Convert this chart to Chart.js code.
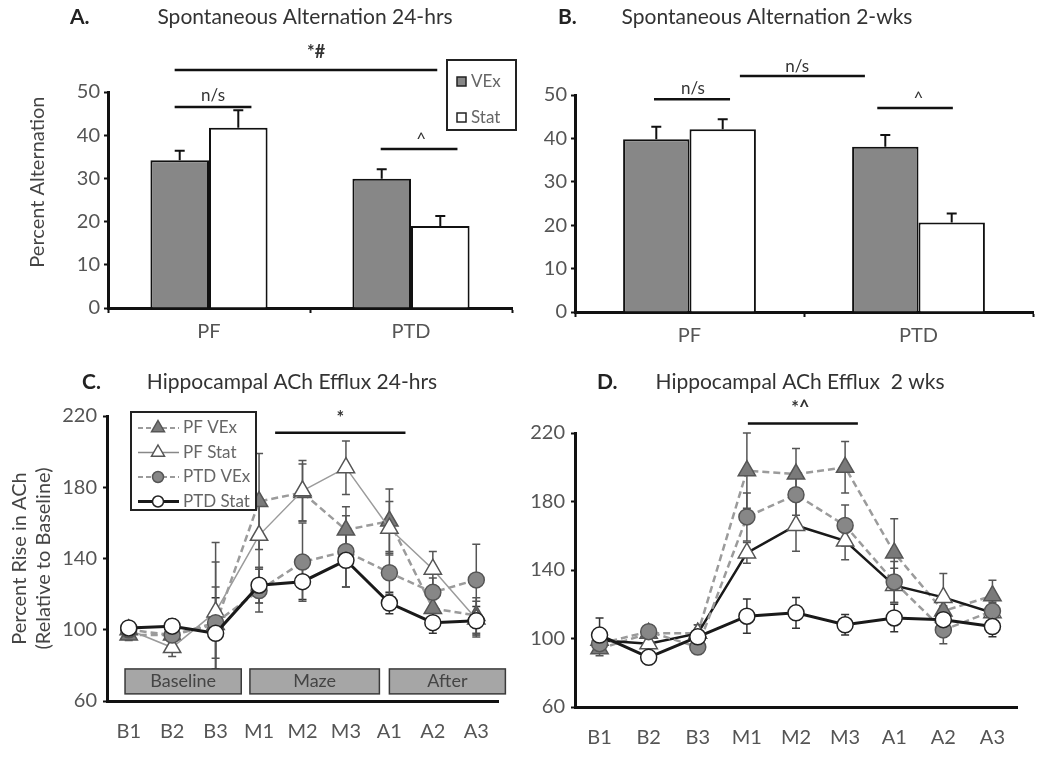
<!DOCTYPE html>
<html>
<head>
<meta charset="utf-8">
<script src="https://cdn.jsdelivr.net/npm/chart.js@4.4.0/dist/chart.umd.min.js"></script>
<style>
  html, body { margin: 0; padding: 0; background: #fff; }
  #fig { position: relative; width: 1050px; height: 757px; overflow: hidden; }
  canvas { position: absolute; }
</style>
</head>
<body>
<div id="fig">
  <canvas id="chartA" width="525" height="360" style="left:0;top:0"></canvas>
  <canvas id="chartB" width="525" height="360" style="left:525px;top:0"></canvas>
  <canvas id="chartC" width="525" height="397" style="left:0;top:360px"></canvas>
  <canvas id="chartD" width="525" height="397" style="left:525px;top:360px"></canvas>
</div>
<script>
'use strict';

// bar panels (A: 24-hrs, B: 2-wks)
const barCategories = ['PF', 'PTD'];
const alt24Vex = [34.2, 29.9];
const alt24VexErr = [2.2, 2.2];
const alt24Stat = [41.7, 19.0];
const alt24StatErr = [4.1, 2.3];
const alt2wVex = [39.8, 38.1];
const alt2wVexErr = [2.9, 2.7];
const alt2wStat = [42.1, 20.6];
const alt2wStatErr = [2.3, 2.1];

// line panels (C: 24-hrs, D: 2 wks)
const timeLabels = ['B1', 'B2', 'B3', 'M1', 'M2', 'M3', 'A1', 'A2', 'A3'];
const ach24PfVex = [97, 97, 103, 172, 177, 156, 161, 112, 108];
const ach24PfVexErr = [3, 5, 35, 27, 16, 13, 18, 7, 10];
const ach24PfStat = [100, 90, 110, 153, 178, 191, 157, 134, 106];
const ach24PfStatErr = [3, 5, 39, 18, 17, 15, 15, 10, 10];
const ach24PtdVex = [100, 97, 104, 122, 138, 144, 132, 121, 128];
const ach24PtdVexErr = [3, 5, 20, 12, 22, 20, 12, 8, 20];
const ach24PtdStat = [101, 102, 98, 125, 127, 139, 115, 104, 105];
const ach24PtdStatErr = [3, 4, 20, 10, 10, 15, 6, 6, 8];

const ach2wPfVex = [94, 103, 103, 198, 196, 200, 150, 116, 125];
const ach2wPfVexErr = [4, 4, 5, 22, 15, 15, 20, 8, 9];
const ach2wPfStat = [99, 97, 103, 150, 166, 157, 131, 124, 115];
const ach2wPfStatErr = [6, 5, 5, 6, 15, 11, 10, 14, 6];
const ach2wPtdVex = [97, 104, 95, 171, 184, 166, 133, 105, 116];
const ach2wPtdVexErr = [5, 4, 4, 14, 12, 12, 12, 8, 6];
const ach2wPtdStat = [102, 89, 101, 113, 115, 108, 112, 111, 107];
const ach2wPtdStatErr = [10, 4, 4, 10, 9, 6, 8, 8, 6];

const FONT = 'Lato, "Open Sans", sans-serif';
Chart.defaults.font.family = FONT;
Chart.defaults.color = '#555';
Chart.defaults.animation = false;

const triangle = (ctx, x, y, r) => {
  ctx.beginPath();
  ctx.moveTo(x, y - r);
  ctx.lineTo(x + 0.866 * r, y + 0.5 * r);
  ctx.lineTo(x - 0.866 * r, y + 0.5 * r);
  ctx.closePath();
};

const drawText = (ctx, t) => {
  ctx.save();
  ctx.font = t.font || `18px ${FONT}`;
  ctx.fillStyle = t.color || '#333';
  ctx.textAlign = t.align || 'center';
  ctx.textBaseline = 'middle';
  ctx.fillText(t.text, t.x, t.y);
  ctx.restore();
};

// error bars, read from dataset.errors
const makeErrorBars = (upOnly, cap) => {
  const draw = (chart) => {
    const { ctx } = chart;
    const yScale = chart.scales.y;
    chart.data.datasets.forEach((ds, i) => {
      if (!ds.errors) return;
      const meta = chart.getDatasetMeta(i);
      ctx.save();
      ctx.strokeStyle = ds.errorColor || '#333';
      ctx.lineWidth = upOnly ? 2 : 1.5;
      meta.data.forEach((el, j) => {
        const v = ds.data[j];
        const e = ds.errors[j];
        const hi = yScale.getPixelForValue(v + e);
        const lo = yScale.getPixelForValue(upOnly ? v : v - e);
        ctx.beginPath();
        ctx.moveTo(el.x, lo);
        ctx.lineTo(el.x, hi);
        ctx.moveTo(el.x - cap, hi);
        ctx.lineTo(el.x + cap, hi);
        if (!upOnly) {
          ctx.moveTo(el.x - cap, lo);
          ctx.lineTo(el.x + cap, lo);
        }
        ctx.stroke();
      });
      ctx.restore();
    });
  };
  return {
    id: 'errorBars',
    beforeDatasetsDraw(chart) { if (!upOnly) draw(chart); },
    afterDatasetsDraw(chart) { if (upOnly) draw(chart); },
  };
};

// titles, significance bars, phase boxes and legends
const makeOverlay = (cfg) => ({
  id: 'overlay',
  beforeDatasetsDraw(chart) {
    const { ctx } = chart;
    const { x, y } = chart.scales;
    (cfg.boxes || []).forEach((b) => {
      const x1 = x.getPixelForValue(b.from);
      const x2 = x.getPixelForValue(b.to);
      const y1 = y.getPixelForValue(b.top);
      const y2 = y.getPixelForValue(b.bottom);
      ctx.save();
      ctx.fillStyle = '#a6a6a6';
      ctx.strokeStyle = '#3a3a3a';
      ctx.lineWidth = 1.5;
      ctx.fillRect(x1, y1, x2 - x1, y2 - y1);
      ctx.strokeRect(x1, y1, x2 - x1, y2 - y1);
      ctx.restore();
      drawText(ctx, { text: b.text, x: (x1 + x2) / 2, y: (y1 + y2) / 2, font: `18px ${FONT}`, color: '#444' });
    });
  },
  afterDraw(chart) {
    const { ctx } = chart;
    const { x, y } = chart.scales;
    (cfg.texts || []).forEach((t) => drawText(ctx, t));
    (cfg.sigs || []).forEach((s) => {
      ctx.save();
      ctx.strokeStyle = '#111';
      ctx.lineWidth = 2.5;
      ctx.beginPath();
      ctx.moveTo(x.getPixelForValue(s.from), y.getPixelForValue(s.y));
      ctx.lineTo(x.getPixelForValue(s.to), y.getPixelForValue(s.y));
      ctx.stroke();
      ctx.restore();
      drawText(ctx, { text: s.text, x: x.getPixelForValue(s.textX), y: y.getPixelForValue(s.textY), font: s.font || `17px ${FONT}`, color: '#333' });
    });
    const lg = cfg.legend;
    if (!lg) return;
    ctx.save();
    ctx.fillStyle = '#fff';
    ctx.strokeStyle = '#222';
    ctx.lineWidth = 2;
    ctx.fillRect(lg.x, lg.y, lg.w, lg.h);
    ctx.strokeRect(lg.x, lg.y, lg.w, lg.h);
    lg.items.forEach((it, k) => {
      const cy = lg.y + lg.first + k * lg.step;
      if (it.marker === 'square') {
        ctx.fillStyle = it.fill;
        ctx.strokeStyle = '#222';
        ctx.lineWidth = 1.5;
        ctx.fillRect(lg.x + 10, cy - 5, 9, 9);
        ctx.strokeRect(lg.x + 10, cy - 5, 9, 9);
      } else {
        ctx.strokeStyle = it.line;
        ctx.lineWidth = it.width;
        ctx.setLineDash(it.dash || []);
        ctx.beginPath();
        ctx.moveTo(lg.x + 7, cy);
        ctx.lineTo(lg.x + 48, cy);
        ctx.stroke();
        ctx.setLineDash([]);
        ctx.fillStyle = it.fill;
        ctx.strokeStyle = it.stroke;
        ctx.lineWidth = 1.5;
        if (it.marker === 'triangle') triangle(ctx, lg.x + 27, cy, 7.5);
        else { ctx.beginPath(); ctx.arc(lg.x + 27, cy, 5.5, 0, Math.PI * 2); }
        ctx.fill();
        ctx.stroke();
      }
      drawText(ctx, { text: it.label, x: lg.x + lg.textX, y: cy, align: 'left', font: `${lg.fontSize}px ${FONT}`, color: '#666' });
    });
    ctx.restore();
  },
});

const fixedY = (w) => (scale) => { scale.width = w; };
const fixedX = (h) => (scale) => { scale.height = h; };

const barChart = (id, vex, vexErr, stat, statErr, frame, yTitle, overlay) => new Chart(document.getElementById(id), {
  type: 'bar',
  data: {
    labels: barCategories,
    datasets: [
      { label: 'VEx', data: vex, errors: vexErr, errorColor: '#111', backgroundColor: '#878787', borderColor: '#111', borderWidth: 2 },
      { label: 'Stat', data: stat, errors: statErr, errorColor: '#111', backgroundColor: '#fff', borderColor: '#111', borderWidth: 2 },
    ],
  },
  options: {
    responsive: false,
    categoryPercentage: 0.58,
    barPercentage: 1,
    layout: { padding: frame.padding },
    plugins: { legend: { display: false }, tooltip: { enabled: false } },
    scales: {
      x: {
        afterFit: fixedX(frame.xH),
        grid: { drawOnChartArea: false, color: '#111', tickLength: 5, tickWidth: 2 },
        border: { color: '#111', width: 3 },
        ticks: { color: '#555', font: { size: 20 }, padding: 7 },
      },
      y: {
        min: 0,
        max: 50,
        afterFit: fixedY(frame.yW),
        grid: { drawOnChartArea: false, color: '#111', tickLength: 4, tickWidth: 2 },
        border: { color: '#111', width: 3 },
        ticks: { stepSize: 10, color: '#555', font: { size: 20 }, padding: 4 },
        title: { display: !!yTitle, text: yTitle, color: '#444', font: { size: 20 }, padding: 0 },
      },
    },
  },
  plugins: [makeErrorBars(true, 5), makeOverlay(overlay)],
});

const lineChart = (id, sets, pfStatLine, frame, yTitle, overlay) => new Chart(document.getElementById(id), {
  type: 'line',
  data: {
    labels: timeLabels,
    datasets: [
      { label: 'PTD Stat', data: sets.ptdStat, errors: sets.ptdStatErr, errorColor: '#333', order: 0,
        borderColor: '#1a1a1a', borderWidth: 3, pointStyle: 'circle', pointRadius: 8, pointHoverRadius: 8,
        pointBackgroundColor: '#fff', pointBorderColor: '#222', pointBorderWidth: 1.5, tension: 0 },
      { label: 'PTD VEx', data: sets.ptdVex, errors: sets.ptdVexErr, errorColor: '#555', order: 1,
        borderColor: '#9b9b9b', borderWidth: 2.5, borderDash: [7, 4], pointStyle: 'circle', pointRadius: 8, pointHoverRadius: 8,
        pointBackgroundColor: '#878787', pointBorderColor: '#555', pointBorderWidth: 1.5, tension: 0 },
      { label: 'PF Stat', data: sets.pfStat, errors: sets.pfStatErr, errorColor: '#555', order: 2,
        borderColor: pfStatLine.color, borderWidth: pfStatLine.width, pointStyle: 'triangle', pointRadius: 10, pointHoverRadius: 10,
        pointBackgroundColor: '#fff', pointBorderColor: '#555', pointBorderWidth: 1.5, tension: 0 },
      { label: 'PF VEx', data: sets.pfVex, errors: sets.pfVexErr, errorColor: '#555', order: 3,
        borderColor: '#9b9b9b', borderWidth: 2.5, borderDash: [7, 4], pointStyle: 'triangle', pointRadius: 10, pointHoverRadius: 10,
        pointBackgroundColor: '#7a7a7a', pointBorderColor: '#555', pointBorderWidth: 1.5, tension: 0 },
    ],
  },
  options: {
    responsive: false,
    layout: { padding: frame.padding },
    plugins: { legend: { display: false }, tooltip: { enabled: false } },
    scales: {
      x: {
        offset: true,
        afterFit: fixedX(frame.xH),
        grid: { display: false },
        border: { color: '#111', width: 3 },
        ticks: { color: '#555', font: { size: 20 }, padding: 11 },
      },
      y: {
        min: 60,
        max: 220,
        afterFit: fixedY(frame.yW),
        grid: { drawOnChartArea: false, color: '#111', tickLength: 4, tickWidth: 2 },
        border: { color: '#111', width: 3 },
        ticks: { stepSize: 40, color: '#555', font: { size: 20 }, padding: 6 },
        title: { display: !!yTitle, text: yTitle, color: '#444', font: { size: 20 }, padding: 0 },
      },
    },
  },
  plugins: [makeErrorBars(false, 4), makeOverlay(overlay)],
});

barChart('chartA', alt24Vex, alt24VexErr, alt24Stat, alt24StatErr,
  { padding: { left: 26, right: 13, top: 92, bottom: 0 }, yW: 82, xH: 52 },
  '       Percent Alternation',
  {
    texts: [
      { text: 'A.', x: 70, y: 17, align: 'left', font: `bold 21px ${FONT}`, color: '#222' },
      { text: 'Spontaneous Alternation 24-hrs', x: 305, y: 17, font: `21px ${FONT}`, color: '#333' },
    ],
    sigs: [
      { from: -0.17, to: 1.13, y: 55.1, text: '*#', textX: 0.53, textY: 59.3, font: `bold 18px ${FONT}` },
      { from: -0.17, to: 0.21, y: 46.5, text: 'n/s', textX: 0.02, textY: 49.3 },
      { from: 0.85, to: 1.23, y: 36.8, text: '^', textX: 1.05, textY: 38.9 },
    ],
    legend: {
      x: 447, y: 60, w: 69, h: 70, first: 22, step: 36, textX: 24, fontSize: 17,
      items: [
        { label: 'VEx', marker: 'square', fill: '#878787' },
        { label: 'Stat', marker: 'square', fill: '#fff' },
      ],
    },
  });

barChart('chartB', alt2wVex, alt2wVexErr, alt2wStat, alt2wStatErr,
  { padding: { left: 0, right: 17, top: 95, bottom: 0 }, yW: 50, xH: 48 },
  '',
  {
    texts: [
      { text: 'B.', x: 33, y: 17, align: 'left', font: `bold 21px ${FONT}`, color: '#222' },
      { text: 'Spontaneous Alternation 2-wks', x: 242, y: 17, font: `21px ${FONT}`, color: '#333' },
    ],
    sigs: [
      { from: -0.155, to: 0.177, y: 49.0, text: 'n/s', textX: 0.015, textY: 51.6 },
      { from: 0.22, to: 0.766, y: 54.4, text: 'n/s', textX: 0.47, textY: 56.5 },
      { from: 0.82, to: 1.15, y: 47.0, text: '^', textX: 1.0, textY: 49.2 },
    ],
  });

lineChart('chartC', {
  pfVex: ach24PfVex, pfVexErr: ach24PfVexErr, pfStat: ach24PfStat, pfStatErr: ach24PfStatErr,
  ptdVex: ach24PtdVex, ptdVexErr: ach24PtdVexErr, ptdStat: ach24PtdStat, ptdStatErr: ach24PtdStatErr,
}, { color: '#9b9b9b', width: 1.5 },
{ padding: { left: 8, right: 27, top: 56, bottom: 0 }, yW: 99, xH: 56 },
['Percent Rise in ACh', '(Relative to Baseline)'],
{
  texts: [
    { text: 'C.', x: 82, y: 22, align: 'left', font: `bold 21px ${FONT}`, color: '#222' },
    { text: 'Hippocampal ACh Efflux 24-hrs', x: 292, y: 22, font: `21px ${FONT}`, color: '#333' },
  ],
  sigs: [
    { from: 3.37, to: 6.37, y: 210.6, text: '*', textX: 4.87, textY: 219, font: `bold 18px ${FONT}` },
  ],
  boxes: [
    { text: 'Baseline', from: -0.085, to: 2.59, top: 78, bottom: 64 },
    { text: 'Maze', from: 2.79, to: 5.77, top: 78, bottom: 64 },
    { text: 'After', from: 6.0, to: 8.67, top: 78, bottom: 64 },
  ],
  legend: {
    x: 131, y: 52, w: 125, h: 98, first: 16, step: 24.5, textX: 52, fontSize: 17,
    items: [
      { label: 'PF VEx', marker: 'triangle', line: '#9b9b9b', width: 2, dash: [5, 3], fill: '#7a7a7a', stroke: '#555' },
      { label: 'PF Stat', marker: 'triangle', line: '#888', width: 1.5, fill: '#fff', stroke: '#555' },
      { label: 'PTD VEx', marker: 'circle', line: '#9b9b9b', width: 2, dash: [5, 3], fill: '#878787', stroke: '#555' },
      { label: 'PTD Stat', marker: 'circle', line: '#1a1a1a', width: 3, fill: '#fff', stroke: '#222' },
    ],
  },
});

lineChart('chartD', {
  pfVex: ach2wPfVex, pfVexErr: ach2wPfVexErr, pfStat: ach2wPfStat, pfStatErr: ach2wPfStatErr,
  ptdVex: ach2wPtdVex, ptdVexErr: ach2wPtdVexErr, ptdStat: ach2wPtdStat, ptdStatErr: ach2wPtdStatErr,
}, { color: '#1a1a1a', width: 2.5 },
{ padding: { left: 0, right: 33, top: 73, bottom: 0 }, yW: 50, xH: 50 },
'',
{
  texts: [
    { text: 'D.', x: 72, y: 22, align: 'left', font: `bold 21px ${FONT}`, color: '#222' },
    { text: 'Hippocampal ACh Efflux  2 wks', x: 275, y: 22, font: `21px ${FONT}`, color: '#333' },
  ],
  sigs: [
    { from: 3.02, to: 5.26, y: 225.5, text: '*^', textX: 4.09, textY: 234.3, font: `bold 18px ${FONT}` },
  ],
});
</script>
</body>
</html>
